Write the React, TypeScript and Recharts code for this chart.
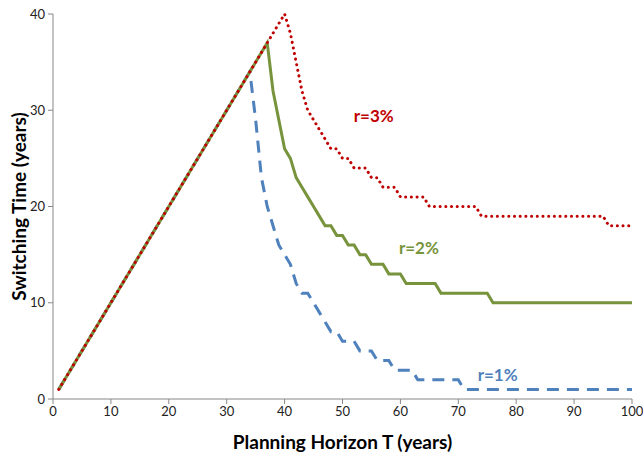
import React from "react";
import { LineChart, Line, XAxis, YAxis, ReferenceDot } from "recharts";

// Planning horizon T (years) vs switching time (years)
const r1Points: [number, number][] = [
  [1, 1], [34, 34], [35, 29], [36, 23], [37, 20], [38, 18], [39, 16], [40, 15], [41, 14], [42, 12],
  [43, 11], [44, 11], [45, 10], [46, 9], [47, 8], [48, 7], [49, 7], [50, 6], [51, 6], [52, 6],
  [53, 5], [54, 5], [55, 5], [56, 4], [57, 4], [58, 4], [59, 3], [60, 3], [61, 3], [62, 3],
  [63, 2], [64, 2], [65, 2], [66, 2], [67, 2], [68, 2], [69, 2], [70, 2], [71, 1], [72, 1],
  [75, 1], [80, 1], [85, 1], [90, 1], [95, 1], [100, 1],
];

const r2Points: [number, number][] = [
  [1, 1], [37, 37], [38, 32], [39, 29], [40, 26], [41, 25], [42, 23], [43, 22], [44, 21], [45, 20],
  [46, 19], [47, 18], [48, 18], [49, 17], [50, 17], [51, 16], [52, 16], [53, 15], [54, 15], [55, 14],
  [56, 14], [57, 14], [58, 13], [59, 13], [60, 13], [61, 12], [62, 12], [63, 12], [64, 12], [65, 12],
  [66, 12], [67, 11], [70, 11], [75, 11], [76, 10], [80, 10], [85, 10], [90, 10], [95, 10], [100, 10],
];

const r3Points: [number, number][] = [
  [1, 1], [40, 40], [41, 38], [42, 35], [43, 32], [44, 30], [45, 29], [46, 28], [47, 27], [48, 26],
  [49, 26], [50, 25], [51, 25], [52, 24], [53, 24], [54, 24], [55, 23], [56, 23], [57, 22], [58, 22],
  [59, 22], [60, 21], [61, 21], [62, 21], [63, 21], [64, 21], [65, 20], [70, 20], [73, 20], [74, 19],
  [80, 19], [85, 19], [90, 19], [95, 19], [96, 18], [100, 18],
];

const xTicks = [0, 10, 20, 30, 40, 50, 60, 70, 80, 90, 100];
const yTicks = [0, 10, 20, 30, 40];

const seriesLabels = [
  { text: "r=3%", T: 55.4, S: 29.4, color: "#C00000" },
  { text: "r=2%", T: 63.2, S: 15.7, color: "#77933C" },
  { text: "r=1%", T: 76.8, S: 2.5, color: "#4F81BD" },
];

const xTitle = "Planning Horizon T (years)";
const yTitle = "Switching Time (years)";

const toRows = (pts: [number, number][]) => pts.map(([T, S]) => ({ T, S }));

const FONT = "Lato, 'Open Sans', sans-serif";

const XTitle = (props: any) => {
  const vb = props.viewBox || {};
  const cx = vb.x + vb.width / 2;
  return (
    <text x={cx} y={vb.y + 42} textAnchor="middle" dominantBaseline="central"
      fontFamily={FONT} fontWeight="bold" fontSize={19} fill="#000">
      {xTitle}
    </text>
  );
};

const YTitle = (props: any) => {
  const vb = props.viewBox || {};
  const cx = 18;
  const cy = vb.y + vb.height / 2;
  return (
    <text x={cx} y={cy} transform={`rotate(-90, ${cx}, ${cy})`} textAnchor="middle"
      dominantBaseline="central" fontFamily={FONT} fontWeight="bold" fontSize={19} fill="#000">
      {yTitle}
    </text>
  );
};

export default function App() {
  return (
    <div style={{ position: "absolute", left: 0, top: 0, width: 643, height: 464, background: "#fff" }}>
      <LineChart width={643} height={464} margin={{ top: 14, right: 11, left: 0, bottom: 0 }}>
        <XAxis
          type="number"
          dataKey="T"
          domain={[0, 100]}
          ticks={xTicks}
          height={65}
          tickSize={5}
          tickMargin={3}
          axisLine={{ stroke: "#868686" }}
          tickLine={{ stroke: "#868686" }}
          tick={{ fontSize: 13, fill: "#222", fontFamily: FONT }}
          label={<XTitle />}
        />
        <YAxis
          type="number"
          domain={[0, 40]}
          ticks={yTicks}
          width={53}
          tickSize={5}
          tickMargin={3}
          axisLine={{ stroke: "#868686" }}
          tickLine={{ stroke: "#868686" }}
          tick={{ fontSize: 13, fill: "#222", fontFamily: FONT }}
          label={<YTitle />}
        />
        <Line data={toRows(r1Points)} dataKey="S" type="linear" stroke="#4F81BD" strokeWidth={3}
          strokeDasharray="12 8" dot={false} activeDot={false} isAnimationActive={false} />
        <Line data={toRows(r2Points)} dataKey="S" type="linear" stroke="#77933C" strokeWidth={3}
          dot={false} activeDot={false} isAnimationActive={false} />
        <Line data={toRows(r3Points)} dataKey="S" type="linear" stroke="#C00000" strokeWidth={3}
          strokeDasharray="0.1 5.6" strokeLinecap="round" dot={false} activeDot={false} isAnimationActive={false} />
        {seriesLabels.map((l) => (
          <ReferenceDot key={l.text} x={l.T} y={l.S} r={0} fill="none" stroke="none"
            label={{ value: l.text, position: "center", fill: l.color, fontSize: 17, fontWeight: "bold", fontFamily: FONT }} />
        ))}
      </LineChart>
    </div>
  );
}
